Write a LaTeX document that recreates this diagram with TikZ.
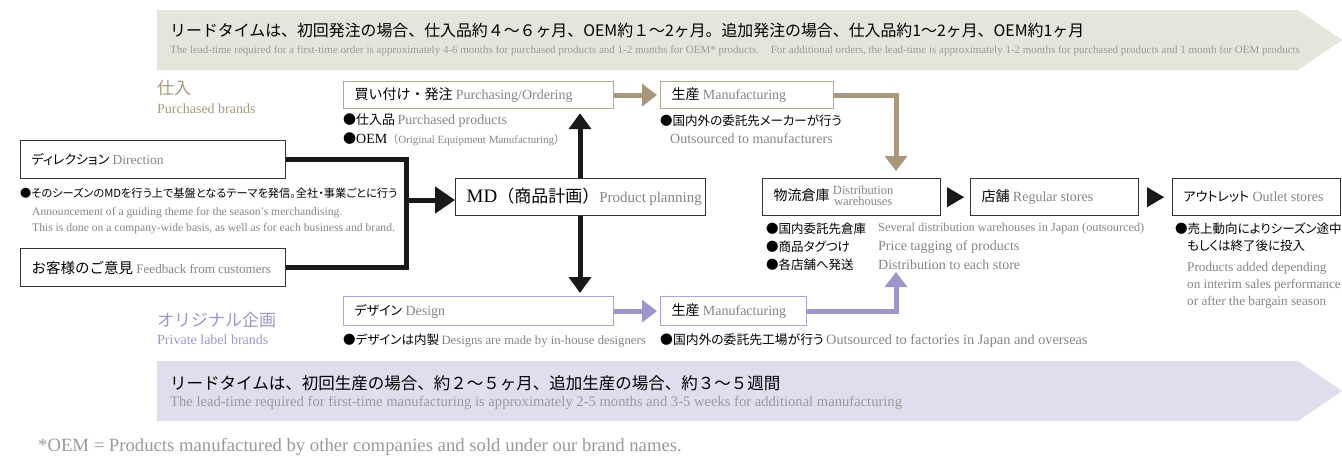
\documentclass[tikz,border=0pt]{standalone}
\usepackage{fontspec}
\setmainfont{Liberation Serif}
\newfontfamily\jp{Noto Sans CJK JP}
\newfontfamily\jpp[RawFeature=+palt]{Noto Sans CJK JP}
\usetikzlibrary{arrows.meta,calc}
\definecolor{tanc}{HTML}{A8977B}
\definecolor{tanbd}{HTML}{B3A78F}
\definecolor{purc}{HTML}{9D95CC}
\definecolor{purbd}{HTML}{ABA3D9}
\definecolor{topfill}{HTML}{E6E5DB}
\definecolor{botfill}{HTML}{DFDEEE}
\definecolor{engray}{HTML}{858585}
\definecolor{lgray}{HTML}{9A9A9A}
\definecolor{boxblack}{HTML}{333333}
\newcommand\fs[1]{\fontsize{#1}{#1}\selectfont}
\newcommand\eg[1]{{\color{engray}#1}}
\begin{document}
\begin{tikzpicture}[x=1pt,y=-1pt,
  box/.style={draw=boxblack, line width=1.3pt, anchor=north west, inner xsep=11pt, inner ysep=0pt, align=left, fill=white},
  tanbox/.style={box, draw=tanbd, line width=1.2pt},
  purbox/.style={box, draw=purbd, line width=1.2pt},
  txt/.style={anchor=west, inner sep=0pt},
  blk/.style={draw=black!90, line width=5pt},
  blkarrow/.style={blk, -{Triangle[length=20pt,width=26pt]}},
  vtip/.style={-{Triangle[length=16pt,width=22pt]}},
  tanarrow/.style={draw=tanc, line width=5pt, -{Triangle[length=15pt,width=22pt]}},
  purarrow/.style={draw=purc, line width=5pt, -{Triangle[length=15pt,width=22pt]}}
]
\useasboundingbox (0,0) rectangle (1342,459);

% banners
\fill[topfill] (157,10) -- (1298,10) -- (1342,40) -- (1298,70) -- (157,70) -- cycle;
\fill[botfill] (157,361) -- (1298,361) -- (1342,391) -- (1298,421) -- (157,421) -- cycle;
\node[txt] (t1) at (170,30) {\jp\fs{15.9}リードタイムは、初回発注の場合、仕入品約４～６ヶ月、OEM約１～2ヶ月。追加発注の場合、仕入品約1～2ヶ月、OEM約1ヶ月};
\node[txt] (t1e) at (170,51) {\fs{11}\color{lgray}The lead-time required for a first-time order is approximately 4-6 months for purchased products and 1-2 months for OEM* products.\hspace{8pt} For additional orders, the lead-time is approximately 1-2 months for purchased products and 1 month for OEM products};
\node[txt] (b1) at (170,383) {\jp\fs{16.5}リードタイムは、初回生産の場合、約２～５ヶ月、追加生産の場合、約３～５週間};
\node[txt] (b1e) at (170,403) {\fs{14.6}\color{lgray}The lead-time required for first-time manufacturing is approximately 2-5 months and 3-5 weeks for additional manufacturing};
\node[txt] (fn) at (38,447) {\fs{18.7}\color{lgray}*OEM = Products manufactured by other companies and sold under our brand names.};

% category labels
\node[txt] (shiire) at (157,88) {\jp\fs{17}\color{tanc}仕入};
\node[txt] (shiiree) at (157,109) {\fs{14}\color{tanc}Purchased brands};
\node[txt] (orig) at (157,320) {\jp\fs{17}\color{purc}オリジナル企画};
\node[txt] (orige) at (157,340) {\fs{14}\color{purc}Private label brands};

% boxes
\node[box, text width=243pt, minimum height=38pt] (dir) at (20,140) {\mbox{{\jpp\fs{13}ディレクション} \eg{\fs{13.5}Direction}}};
\node[box, text width=243pt, minimum height=38pt] (fb) at (20,248) {\mbox{{\jp\fs{14.5}お客様のご意見} \eg{\fs{13}Feedback from customers}}};
\node[box, text width=228pt, minimum height=37pt] (md) at (455,178) {\mbox{{\fs{19}MD}{\jp\fs{17}（商品計画）}\eg{\fs{15}Product planning}}};
\node[tanbox, text width=248pt, minimum height=27pt] (pur) at (343,81) {\mbox{{\jp\fs{14}買い付け・発注} \eg{\fs{14}Purchasing/Ordering}}};
\node[tanbox, text width=151pt, minimum height=27pt] (man1) at (660,81) {\mbox{{\jp\fs{14}生産} \eg{\fs{14}Manufacturing}}};
\node[purbox, text width=248pt, minimum height=29pt] (des) at (343,296) {\mbox{{\jpp\fs{13}デザイン} \eg{\fs{14}Design}}};
\node[purbox, text width=124pt, minimum height=29pt] (man2) at (660,296) {\mbox{{\jp\fs{14}生産} \eg{\fs{14}Manufacturing}}};
\node[box, text width=156pt, minimum height=37pt] (wh) at (762,178) {\mbox{{\jp\fs{14}物流倉庫} \eg{\fs{12.5}\renewcommand\arraystretch{0.75}\begin{tabular}{@{}c@{}}Distribution\\warehouses\end{tabular}}}};
\node[box, text width=146pt, minimum height=37pt] (st) at (970,178) {\mbox{{\jp\fs{14}店舗} \eg{\fs{14}Regular stores}}};
\node[box, text width=146pt, minimum height=37pt] (out) at (1172,178) {\mbox{{\jpp\fs{13}アウトレット} \eg{\fs{14}Outlet stores}}};

% bullets
\node[txt] (dirb) at (20,193) {\jpp\fs{11.2}●そのシーズンのMDを行う上で基盤となるテーマを発信。全社・事業ごとに行う};
\node[txt] (dire1) at (32,213) {\fs{11.6}\color{engray}Announcement of a guiding theme for the season's merchandising.};
\node[txt] (dire2) at (32,229) {\fs{11.6}\color{engray}This is done on a company-wide basis, as well as for each business and brand.};
\node[txt] (purb1) at (343,121) {{\jp\fs{13}●仕入品} \eg{\fs{14}Purchased products}};
\node[txt] (purb2) at (343,139) {{\jp\fs{13}●}{\fs{14}OEM}\eg{{\jp\fs{11}（}\fs{11}Original Equipment Manufacturing{\jp\fs{11}）}}};
\node[txt] (manb1) at (660,121) {\jpp\fs{12.5}●国内外の委託先メーカーが行う};
\node[txt] (manb2) at (670,139) {\fs{14}\color{engray}Outsourced to manufacturers};
\node[txt] (whb1) at (766,229) {\jp\fs{12.5}●国内委託先倉庫};
\node[txt] (whb2) at (766,247) {\jpp\fs{12.5}●商品タグつけ};
\node[txt] (whb3) at (766,265) {\jp\fs{12.5}●各店舗へ発送};
\node[txt] (whe1) at (878,229) {\fs{12.3}\color{engray}Several distribution warehouses in Japan (outsourced)};
\node[txt] (whe2) at (878,247) {\fs{14}\color{engray}Price tagging of products};
\node[txt] (whe3) at (878,265) {\fs{14}\color{engray}Distribution to each store};
\node[txt] (outb1) at (1175,229) {\jpp\fs{12.5}●売上動向によりシーズン途中};
\node[txt] (outb2) at (1187,246) {\jpp\fs{12.5}もしくは終了後に投入};
\node[txt] (oute1) at (1187,268) {\fs{13.2}\color{engray}Products added depending};
\node[txt] (oute2) at (1187,285) {\fs{13.2}\color{engray}on interim sales performance};
\node[txt] (oute3) at (1187,302) {\fs{13.2}\color{engray}or after the bargain season};
\node[txt] (desb) at (343,341) {{\jpp\fs{12.5}●デザインは内製} \eg{\fs{12.7}Designs are made by in-house designers}};
\node[txt] (man2b) at (660,341) {{\jpp\fs{12.8}●国内外の委託先工場が行う} \eg{\fs{14.3}Outsourced to factories in Japan and overseas}};

% connectors
\coordinate (j) at (406,200);
\draw[blk, line join=miter] (dir.east) -| (j) |- (fb.east);
\draw[blkarrow] (j) -- (j -| md.west);
\coordinate (mx) at (580,0);
\draw[blk, vtip, shorten >=4pt] (mx |- md.north) -- (mx |- pur.south);
\draw[blk, vtip, shorten >=3pt] (mx |- md.south) -- (mx |- des.north);
\draw[tanarrow, shorten >=3pt] (pur.east) -- (man1.west);
\coordinate (tv) at (896,0);
\draw[tanarrow, shorten >=7pt] (man1.east) -| (tv |- wh.north);
\draw[purarrow, shorten >=3pt] (des.east) -- (man2.west);
\coordinate (pv) at (896,272);
\draw[purarrow] (man2.east) -| (pv);
% triangles between store boxes
\coordinate (m1) at ($(wh.east)!0.5!(st.west)$);
\coordinate (m2) at ($(st.east)!0.5!(out.west)$);
\fill[black!90] ($(m1)+(-8.5,-10)$) -- ($(m1)+(8.5,0)$) -- ($(m1)+(-8.5,10)$) -- cycle;
\fill[black!90] ($(m2)+(-8.5,-10)$) -- ($(m2)+(8.5,0)$) -- ($(m2)+(-8.5,10)$) -- cycle;
\end{tikzpicture}
\end{document}
